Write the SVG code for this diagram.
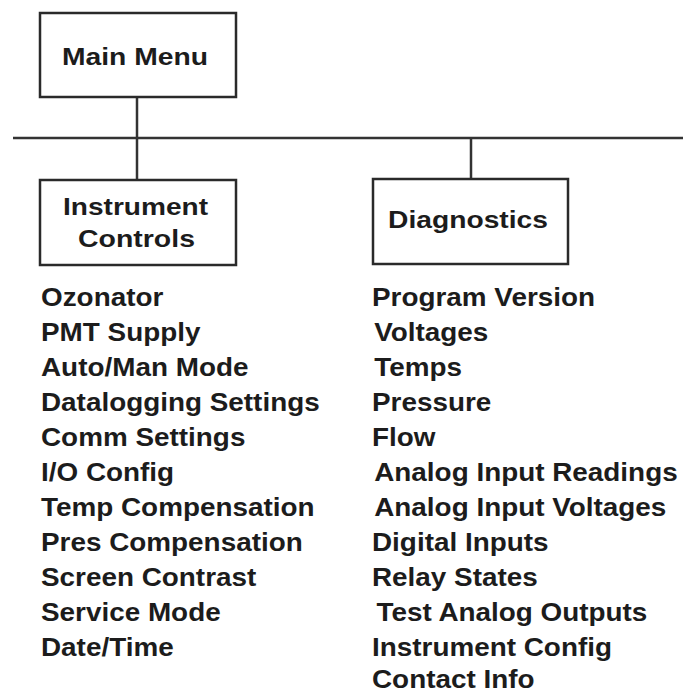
<svg xmlns="http://www.w3.org/2000/svg" width="683" height="694" viewBox="0 0 683 694">
<style>
.box{fill:#fff;stroke:#2a2a2a;stroke-width:2.5}
.conn{stroke:#333;stroke-width:2.5;fill:none}
.lbl{font-family:"Liberation Sans",Arial,sans-serif;font-weight:bold;font-size:24px;fill:#1c1c1c}
.item{font-family:"Liberation Sans",Arial,sans-serif;font-weight:bold;font-size:25px;fill:#1c1c1c}
</style>
<rect width="683" height="694" fill="#fff"/>
<g id="connectors">
<line class="conn" x1="137" y1="97" x2="137" y2="180"/>
<line class="conn" x1="13" y1="138" x2="683" y2="138"/>
<line class="conn" x1="471" y1="138" x2="471" y2="179"/>
</g>
<g id="main-menu">
<rect class="box" x="40" y="13" width="196" height="84"/>
<text class="lbl" x="62" y="65" textLength="146" lengthAdjust="spacingAndGlyphs">Main Menu</text>
</g>
<g id="instrument-controls">
<rect class="box" x="40" y="180" width="196" height="85"/>
<text class="lbl" x="63" y="215" textLength="145" lengthAdjust="spacingAndGlyphs">Instrument</text>
<text class="lbl" x="78" y="247" textLength="117" lengthAdjust="spacingAndGlyphs">Controls</text>
</g>
<g id="diagnostics">
<rect class="box" x="373" y="179" width="195" height="85"/>
<text class="lbl" x="388" y="228" textLength="160" lengthAdjust="spacingAndGlyphs">Diagnostics</text>
</g>
<g id="instrument-controls-items" transform="translate(41 0) scale(1.115 1)">
<text class="item" x="0" y="306">Ozonator</text>
<text class="item" x="0" y="341">PMT Supply</text>
<text class="item" x="0" y="376">Auto/Man Mode</text>
<text class="item" x="0" y="411">Datalogging Settings</text>
<text class="item" x="0" y="446">Comm Settings</text>
<text class="item" x="0" y="481">I/O Config</text>
<text class="item" x="0" y="516">Temp Compensation</text>
<text class="item" x="0" y="551">Pres Compensation</text>
<text class="item" x="0" y="586">Screen Contrast</text>
<text class="item" x="0" y="621">Service Mode</text>
<text class="item" x="0" y="656">Date/Time</text>
</g>
<g id="diagnostics-items" transform="translate(372 0) scale(1.115 1)">
<text class="item" x="0" y="306">Program Version</text>
<text class="item" x="2" y="341">Voltages</text>
<text class="item" x="2" y="376">Temps</text>
<text class="item" x="0" y="411">Pressure</text>
<text class="item" x="0" y="446">Flow</text>
<text class="item" x="2" y="481">Analog Input Readings</text>
<text class="item" x="2" y="516">Analog Input Voltages</text>
<text class="item" x="0" y="551">Digital Inputs</text>
<text class="item" x="0" y="586">Relay States</text>
<text class="item" x="4" y="621">Test Analog Outputs</text>
<text class="item" x="0" y="656">Instrument Config</text>
<text class="item" x="0" y="688">Contact Info</text>
</g>
</svg>
